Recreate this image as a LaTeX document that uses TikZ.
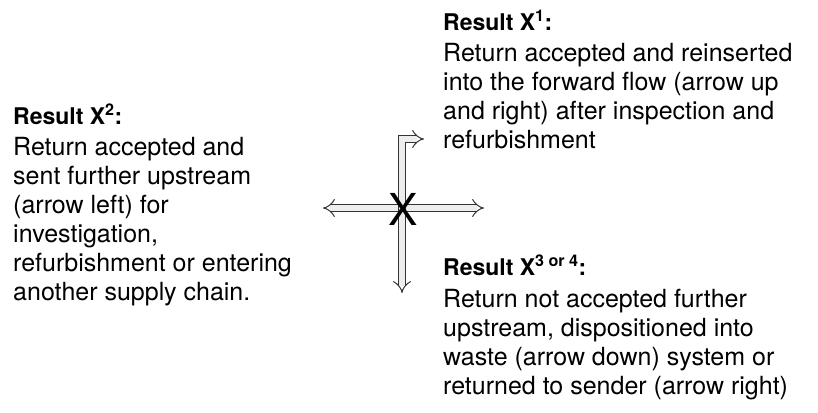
\documentclass[tikz,border=0pt]{standalone}
\usepackage{fontspec}
\setmainfont{TeX Gyre Heros}
\usetikzlibrary{arrows.meta,positioning}

\tikzset{
  txt/.style={align=left, inner sep=0pt, anchor=north west,
    font=\fontsize{25}{29}\selectfont},
  flow/.style={draw=black!80, line width=1pt, double=black!7,
    double distance=5.4pt, -{Implies[length=6pt]}},
}
\newcommand{\reshead}[1]{{\fontsize{23}{29}\selectfont\bfseries #1}}

\begin{document}
\begin{tikzpicture}[x=1pt,y=-1pt]
			\useasboundingbox (0,0) rectangle (818,412);
			% Define nodes
			\node[txt] (res2) at (13,104) {\reshead{Result X\textsuperscript{2}:}\\[1.5pt]
				Return accepted and\\ sent further upstream\\ (arrow left) for\\
				investigation,\\ refurbishment or entering\\ another supply chain.}; %
			\node[txt] (res1) at (443,10) {\reshead{Result X\textsuperscript{1}:}\\[1.5pt]
				Return accepted and reinserted\\ into the forward flow (arrow up\\
				and right) after inspection and\\ refurbishment}; %
			\node[txt] (res34) at (443,255) {\reshead{Result X\textsuperscript{3 or 4}:}\\[2.5pt]
				Return not accepted further\\ upstream, dispositioned into\\
				waste (arrow down) system or\\ returned to sender (arrow right)}; %
			\coordinate (ctr) at (402,208);
			\coordinate (lt) at (323,208);
			\coordinate (rt) at (484,208);
			\coordinate (dn) at (402,293);
			\coordinate (up) at (424,139);
			%%add edge
			\draw[flow] (ctr) -- (lt);
			\draw[flow] (ctr) -- (rt);
			\draw[flow] (ctr) -- (dn);
			\draw[flow] (ctr) |- (up);
			\node[font=\fontsize{44}{44}\selectfont, inner sep=0pt] (xmark) at (403,209) {X};
\end{tikzpicture}
\end{document}
